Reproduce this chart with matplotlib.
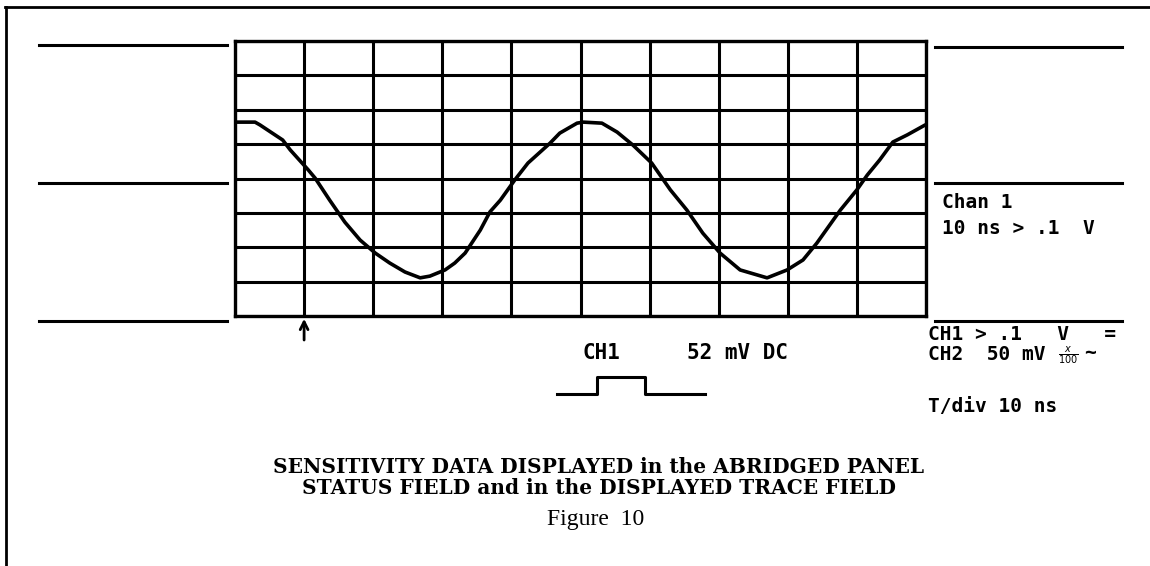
import matplotlib.pyplot as plt
from matplotlib.lines import Line2D

# trace, in divisions (x: 0-10, y: 0-8 from the bottom)
trace_x = [0.00, 0.29, 0.36, 0.69, 0.80, 1.06, 1.16, 1.37, 1.59, 1.81, 2.03, 2.24,
           2.46, 2.68, 2.82, 3.04, 3.18, 3.33, 3.55, 3.69, 3.84, 4.05, 4.24, 4.56,
           4.70, 4.95, 5.04, 5.31, 5.53, 5.76, 6.03, 6.30, 6.54, 6.77, 7.02, 7.31,
           7.70, 7.99, 8.22, 8.42, 8.76, 9.00, 9.15, 9.33, 9.52, 9.73, 9.99]
trace_y = [5.64, 5.64, 5.56, 5.12, 4.83, 4.25, 4.01, 3.37, 2.73, 2.21, 1.83, 1.54,
           1.28, 1.11, 1.16, 1.34, 1.54, 1.83, 2.50, 3.03, 3.37, 3.96, 4.45, 5.03,
           5.32, 5.61, 5.64, 5.61, 5.35, 4.97, 4.45, 3.67, 3.08, 2.41, 1.83, 1.34,
           1.11, 1.34, 1.63, 2.12, 3.08, 3.67, 4.10, 4.54, 5.06, 5.27, 5.56]
n_cols = 10
n_rows = 8
trigger_div = 1.0

pulse_x = [0, 4, 4, 8.8, 8.8, 14.8]
pulse_y = [0, 0, 1, 1, 0, 0]

status_right = ['CH1 > .1   V   =', 'CH2  50 mV']
chan_text = ['Chan 1', '10 ns > .1  V']
caption = ['SENSITIVITY DATA DISPLAYED in the ABRIDGED PANEL',
           'STATUS FIELD and in the DISPLAYED TRACE FIELD']

W, H = 1150, 566
def fx(px):
    return px / W
def fy(py):
    return 1 - py / H

fig = plt.figure(figsize=(11.5, 5.66), dpi=100)
mono = dict(family='DejaVu Sans Mono', fontsize=14, weight='bold', color='black')

# page frame (only top and left edges show)
fig.add_artist(Line2D([fx(5), 1], [fy(7), fy(7)], transform=fig.transFigure, color='black', lw=2))
fig.add_artist(Line2D([fx(6), fx(6)], [fy(7), 0], transform=fig.transFigure, color='black', lw=2))

# side rules
for y in [45, 183, 321]:
    fig.add_artist(Line2D([fx(39), fx(227)], [fy(y), fy(y)], transform=fig.transFigure, color='black', lw=2.2))
for y in [47, 183, 321]:
    fig.add_artist(Line2D([fx(935), fx(1122)], [fy(y), fy(y)], transform=fig.transFigure, color='black', lw=2.2))

# screen
ax = fig.add_axes([fx(235), fy(316), (926 - 235) / W, (316 - 41) / H])
ax.set_xlim(0, n_cols)
ax.set_ylim(0, n_rows)
ax.set_xticks(range(n_cols + 1))
ax.set_yticks(range(n_rows + 1))
ax.tick_params(length=0, labelbottom=False, labelleft=False)
ax.grid(True, color='black', lw=2.2)
for s in ax.spines.values():
    s.set_linewidth(2.4)
ax.plot(trace_x, trace_y, color='black', lw=2.6, solid_capstyle='round', solid_joinstyle='round')
ax.annotate('', xy=(trigger_div, 0), xytext=(trigger_div, -0.78),
            arrowprops=dict(arrowstyle='->', color='black', lw=2, mutation_scale=14),
            annotation_clip=False)

# channel text on the right
fig.text(fx(942), fy(203), chan_text[0], va='center', ha='left', **mono)
fig.text(fx(942), fy(228), chan_text[1], va='center', ha='left', **mono)
fig.text(fx(928), fy(335), status_right[0], va='center', ha='left', **mono)
fig.text(fx(928), fy(355), status_right[1], va='center', ha='left', **mono)
fig.text(fx(1058), fy(355), r'$\frac{x}{100}$', va='center', ha='left', fontsize=10, color='black')
fig.text(fx(1084), fy(353), '~', va='center', ha='left', **mono)
fig.text(fx(928), fy(406), 'T/div 10 ns', va='center', ha='left', **mono)

# channel status under the screen
mono_big = dict(mono, fontsize=15)
fig.text(fx(583), fy(353), 'CH1', va='center', ha='left', **mono_big)
fig.text(fx(687), fy(353), '52 mV DC', va='center', ha='left', **mono_big)
pax = fig.add_axes([fx(557), fy(394), (705 - 557) / W, (394 - 377) / H])
pax.plot(pulse_x, pulse_y, color='black', lw=2.2, clip_on=False)
pax.set_xlim(min(pulse_x), max(pulse_x))
pax.set_ylim(0, 1)
pax.axis('off')

# caption
fig.text(fx(599), fy(467), caption[0], family='DejaVu Serif', fontsize=14.5, weight='bold',
         ha='center', va='center', color='black')
fig.text(fx(599), fy(488), caption[1], family='DejaVu Serif', fontsize=14.5, weight='bold',
         ha='center', va='center', color='black')
fig.text(fx(596), fy(519), 'Figure  10', family='Liberation Serif', fontsize=17,
         ha='center', va='center', color='black')

fig.savefig('out.png', dpi=100)
